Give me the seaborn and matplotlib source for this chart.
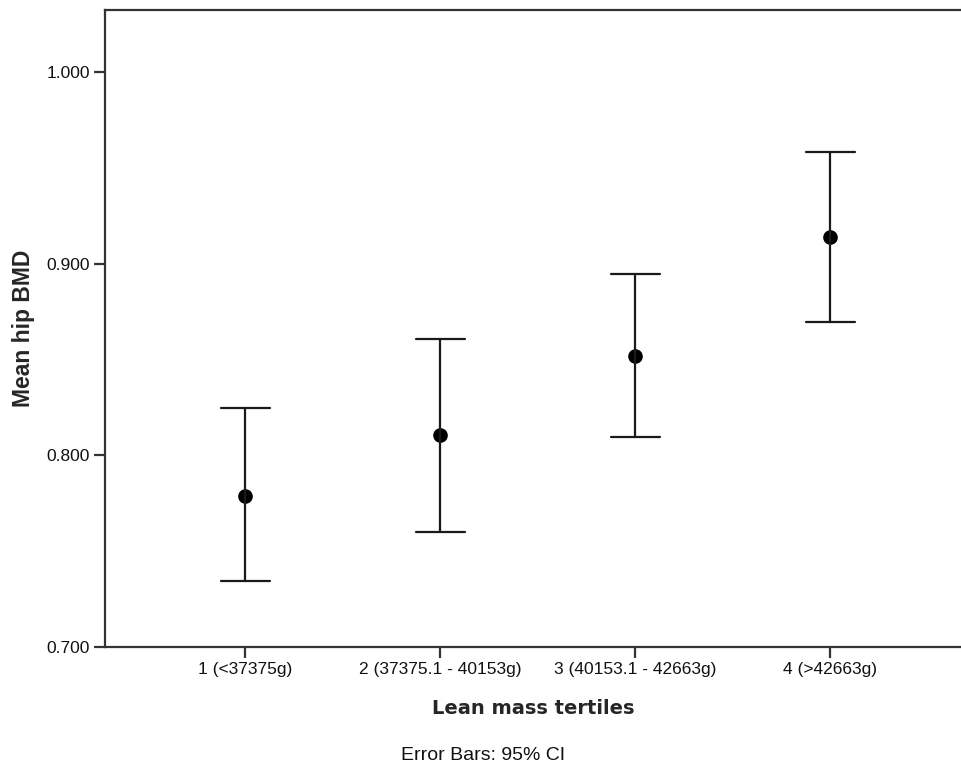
import numpy as np
import pandas as pd
import matplotlib
matplotlib.use("Agg")
import matplotlib.pyplot as plt
import seaborn as sns

# Lean mass tertile groups, mean hip BMD and 95% CI
groups = ["1 (<37375g)", "2 (37375.1 - 40153g)", "3 (40153.1 - 42663g)", "4 (>42663g)"]
mean_bmd = [0.779, 0.8105, 0.852, 0.914]
ci_low = [0.7345, 0.760, 0.8095, 0.8697]
ci_high = [0.8245, 0.861, 0.8945, 0.9585]

# long table: lower / mean / upper per group -> median = mean, 0-100 interval = CI
rows = []
for g, lo, m, hi in zip(groups, ci_low, mean_bmd, ci_high):
    for v in (lo, m, hi):
        rows.append({"group": g, "bmd": v})
df = pd.DataFrame(rows)

sns.set_style("white")
plt.rcParams["font.family"] = ["Liberation Sans", "DejaVu Sans"]

fig = plt.figure(figsize=(9.61, 7.69), dpi=100)
ax = fig.add_axes([105 / 961, (769 - 647) / 769, (961 - 105) / 961, (647 - 10) / 769])

sns.pointplot(data=df, x="group", y="bmd", order=groups,
              estimator=np.median, errorbar=("pi", 100),
              color="black", linestyle="none", marker="o",
              markersize=8.5, capsize=0.25,
              err_kws={"linewidth": 1.6, "color": "#1a1a1a"}, ax=ax)

ax.set_ylim(0.700, 1.0325)
ax.set_xlim(-0.72, 3.67)
ax.set_yticks([0.7, 0.8, 0.9, 1.0])
ax.set_yticklabels(["0.700", "0.800", "0.900", "1.000"])

for side in ["left", "bottom", "top"]:
    ax.spines[side].set_color("#333333")
    ax.spines[side].set_linewidth(1.6)
ax.spines["right"].set_visible(False)

ax.tick_params(axis="both", direction="out", length=8, width=1.6,
               color="#333333", labelsize=12.5, labelcolor="#111111",
               left=True, bottom=True, pad=3)

ax.set_ylabel("Mean hip BMD", fontsize=16.5, fontweight="bold", labelpad=8)
ax.set_xlabel("Lean mass tertiles", fontsize=14, fontweight="bold",
              family="DejaVu Sans", labelpad=16)

fig.text(483 / 961, 1 - 755 / 769, "Error Bars: 95% CI", ha="center", va="center",
         fontsize=14, color="#111111")

fig.savefig("out.png", dpi=100)
